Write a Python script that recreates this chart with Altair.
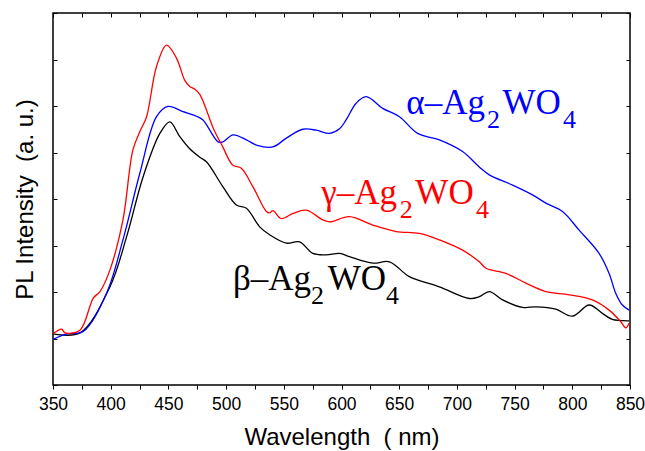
import altair as alt
import pandas as pd

# ---- data ----
wl_alpha = [350, 361.9, 376.2, 396.5, 410.6, 425.3, 439.7, 449.7, 462.7, 474.3,
            480.0, 493.0, 497.3, 506.0, 517.6, 526.2, 540.6, 552.2, 566.5, 578.1,
            589.6, 598.3, 604.0, 612.7, 621.4, 635.7, 650.2, 666.0, 684.8, 704.9,
            719.4, 728.1, 748.2, 765.5, 777.1, 791.5, 805.9, 823.2, 831.9, 837.7,
            843.4, 849.2]
pl_alpha = [0.98, 1.10, 1.15, 1.98, 3.12, 4.56, 5.77, 5.99, 5.88, 5.78,
            5.70, 5.23, 5.23, 5.38, 5.27, 5.16, 5.12, 5.31, 5.50, 5.48,
            5.41, 5.51, 5.70, 6.06, 6.20, 5.95, 5.77, 5.41, 5.27, 5.02,
            4.69, 4.52, 4.30, 4.09, 3.91, 3.73, 3.33, 2.83, 2.40, 1.97,
            1.72, 1.61]

wl_gamma = [350, 357.5, 360.4, 373.4, 384.9, 390.7, 399.3, 410.6, 419.2, 425.3,
            431.1, 439.7, 448.4, 457.0, 464.2, 468.5, 473.0, 477.2, 482.0, 488.4,
            497.1, 505.7, 513.2, 523.3, 534.9, 537.7, 540.6, 547.8, 557.9, 569.5,
            583.8, 590.0, 606.9, 627.1, 647.3, 667.5, 684.8, 704.9, 719.4, 725.2,
            742.5, 759.8, 777.1, 797.3, 817.4, 831.9, 842.0, 846.3, 849.2]
pl_gamma = [1.10, 1.20, 1.12, 1.18, 1.87, 2.01, 2.47, 3.55, 5.05, 5.45,
            5.77, 6.85, 7.31, 7.03, 6.55, 6.42, 6.36, 6.25, 5.98, 5.55,
            5.12, 4.73, 4.66, 4.26, 3.73, 3.70, 3.75, 3.58, 3.69, 3.76,
            3.55, 3.51, 3.62, 3.44, 3.30, 3.26, 3.12, 2.90, 2.65, 2.51,
            2.40, 2.19, 2.01, 1.94, 1.83, 1.61, 1.36, 1.23, 1.33]

wl_beta = [350, 373.4, 399.3, 413.8, 428.1, 442.6, 451.2, 459.9, 468.5, 477.2,
           483.0, 497.3, 508.9, 517.6, 529.1, 537.7, 552.2, 563.7, 575.2, 586.8,
           598.3, 606.9, 627.1, 641.5, 658.8, 684.8, 710.8, 719.4, 728.1, 739.6,
           756.9, 768.4, 785.7, 800.1, 814.6, 826.1, 834.7, 849.2]
pl_beta = [1.10, 1.12, 2.11, 3.19, 4.48, 5.41, 5.66, 5.34, 5.08, 4.90,
           4.80, 4.26, 3.87, 3.80, 3.40, 3.23, 3.05, 3.08, 2.83, 2.80,
           2.83, 2.76, 2.62, 2.65, 2.33, 2.11, 1.86, 1.90, 2.01, 1.83,
           1.67, 1.68, 1.63, 1.48, 1.72, 1.54, 1.41, 1.38]

series_names = ["beta", "alpha", "gamma"]
series_colors = ["#000000", "#0000ff", "#ff0000"]

# label pieces (main text / subscripts)
lab_main_text = ["α–Ag", "WO", "γ–Ag", "WO", "β–Ag", "WO"]
lab_main_x = [656.2, 739.5, 582.4, 664.0, 506.0, 588.0]
lab_main_y = [5.83, 5.83, 3.89, 3.89, 2.04, 2.04]
lab_main_col = ["#0000ff", "#0000ff", "#ff0000", "#ff0000", "#000000", "#000000"]

lab_sub_text = ["2", "4", "2", "4", "2", "4"]
lab_sub_x = [726.0, 792.0, 650.5, 716.5, 573.5, 638.5]
lab_sub_y = [5.83, 5.83, 3.89, 3.89, 2.04, 2.04]
lab_sub_col = lab_main_col

x_ticks = list(range(350, 851, 25))
y_ticks = list(range(0, 9))

# ---- tables ----
rows = []
for name, wl, pl in [("beta", wl_beta, pl_beta), ("alpha", wl_alpha, pl_alpha),
                     ("gamma", wl_gamma, pl_gamma)]:
    for w, v in zip(wl, pl):
        rows.append({"series": name, "wl": w, "pl": v})
df = pd.DataFrame(rows)

main_df = pd.DataFrame({"text": lab_main_text, "x": lab_main_x, "y": lab_main_y, "c": lab_main_col})
sub_df = pd.DataFrame({"text": lab_sub_text, "x": lab_sub_x, "y": lab_sub_y, "c": lab_sub_col})

x_scale = alt.Scale(domain=[350, 850], nice=False, zero=False)
y_scale = alt.Scale(domain=[0, 8], nice=False, zero=False)

lines = alt.Chart(df).mark_line(interpolate="catmull-rom", strokeWidth=1.3).encode(
    x=alt.X("wl:Q", scale=x_scale, axis=alt.Axis(
        orient="bottom", values=x_ticks,
        labelExpr="datum.value % 50 == 0 ? datum.label : ''",
        title="Wavelength\u00a0 ( nm)", domain=False, grid=False,
        tickSize=4, tickColor="black", tickWidth=1,
        labelFont="Liberation Sans", labelFontSize=17.5, labelColor="black",
        labelPadding=6, labelFlush=False,
        titleFont="Liberation Sans", titleFontSize=24, titleFontWeight="normal",
        titleColor="black", titlePadding=13)),
    y=alt.Y("pl:Q", scale=y_scale, axis=alt.Axis(
        orient="left", values=y_ticks, labels=False, domain=False, grid=False,
        offset=-4, tickSize=4, tickColor="black", tickWidth=1,
        title="PL Intensity\u00a0 (a. u.)",
        titleFont="Liberation Sans", titleFontSize=24, titleFontWeight="normal",
        titleColor="black", titlePadding=15)),
    color=alt.Color("series:N", scale=alt.Scale(domain=series_names, range=series_colors), legend=None),
    detail="series:N",
)

mirror = alt.Chart(df).mark_point(opacity=0).encode(
    x=alt.X("wl:Q", scale=x_scale, axis=alt.Axis(
        orient="top", values=x_ticks, labels=False, domain=False, grid=False,
        offset=-4, tickSize=4, tickColor="black", tickWidth=1, title=None)),
    y=alt.Y("pl:Q", scale=y_scale, axis=alt.Axis(
        orient="right", values=y_ticks, labels=False, domain=False, grid=False,
        offset=-4, tickSize=4, tickColor="black", tickWidth=1, title=None)),
)

main_text = alt.Chart(main_df).mark_text(
    align="left", baseline="alphabetic", font="Liberation Serif", fontSize=35
).encode(
    x=alt.X("x:Q", scale=x_scale, axis=None),
    y=alt.Y("y:Q", scale=y_scale, axis=None),
    text="text:N",
    color=alt.Color("c:N", scale=None),
)

sub_text = alt.Chart(sub_df).mark_text(
    align="left", baseline="alphabetic", font="Liberation Serif", fontSize=26, dy=14
).encode(
    x=alt.X("x:Q", scale=x_scale, axis=None),
    y=alt.Y("y:Q", scale=y_scale, axis=None),
    text="text:N",
    color=alt.Color("c:N", scale=None),
)

chart = alt.layer(lines, mirror, main_text, sub_text).resolve_axis(
    x="independent", y="independent"
).properties(
    width=577, height=372,
    padding={"left": 53, "top": 13, "right": 15, "bottom": 66},
    autosize=alt.AutoSizeParams(type="none"),
    background="white",
).configure_view(stroke="black", strokeWidth=1.5)

chart.save("out.html", embed_options={"renderer": "svg", "actions": False})
